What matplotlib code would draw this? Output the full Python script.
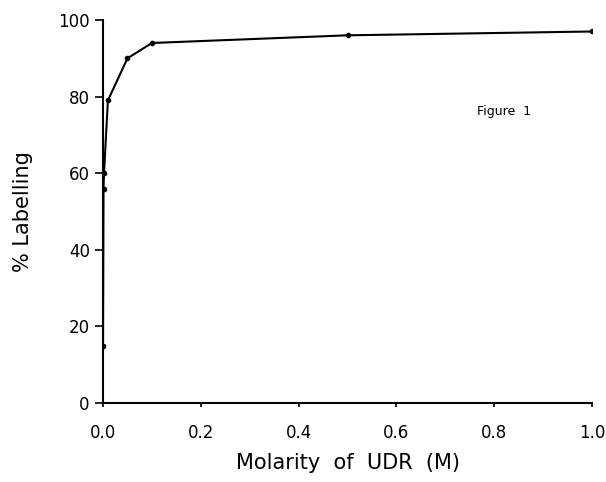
import matplotlib
matplotlib.use("Agg")
import matplotlib.pyplot as plt

molarity = [0.0, 0.001, 0.002, 0.01, 0.05, 0.1, 0.5, 1.0]
labelling = [15, 56, 60, 79, 90, 94, 96, 97]
xticks = [0.0, 0.2, 0.4, 0.6, 0.8, 1.0]
xticklabels = ["0.0", "0.2", "0.4", "0.6", "0.8", "1.0"]
yticks = [0, 20, 40, 60, 80, 100]

fig = plt.figure(figsize=(6.06, 4.82), dpi=100)
ax = fig.add_axes([0.170, 0.164, 0.807, 0.7945])
ax.plot(molarity, labelling, color="black", lw=1.5, marker="o", ms=3)
ax.set_xlim(0, 1.0)
ax.set_ylim(0, 100)
ax.set_xticks(xticks)
ax.set_xticklabels(xticklabels)
ax.set_yticks(yticks)
for s in ["top", "right"]:
    ax.spines[s].set_visible(False)
for s in ["left", "bottom"]:
    ax.spines[s].set_linewidth(1.5)
ax.tick_params(axis="y", direction="out", length=6, width=1.2, labelsize=12)
ax.tick_params(axis="x", direction="out", length=3, width=1.2, labelsize=12, pad=12)
ax.set_xlabel("Molarity  of  UDR  (M)", fontsize=15, labelpad=8)
ax.set_ylabel("% Labelling", fontsize=15, labelpad=18)
ax.text(0.82, 76, "Figure  1", fontsize=9, ha="center", va="center")
fig.savefig("out.png", dpi=100)
